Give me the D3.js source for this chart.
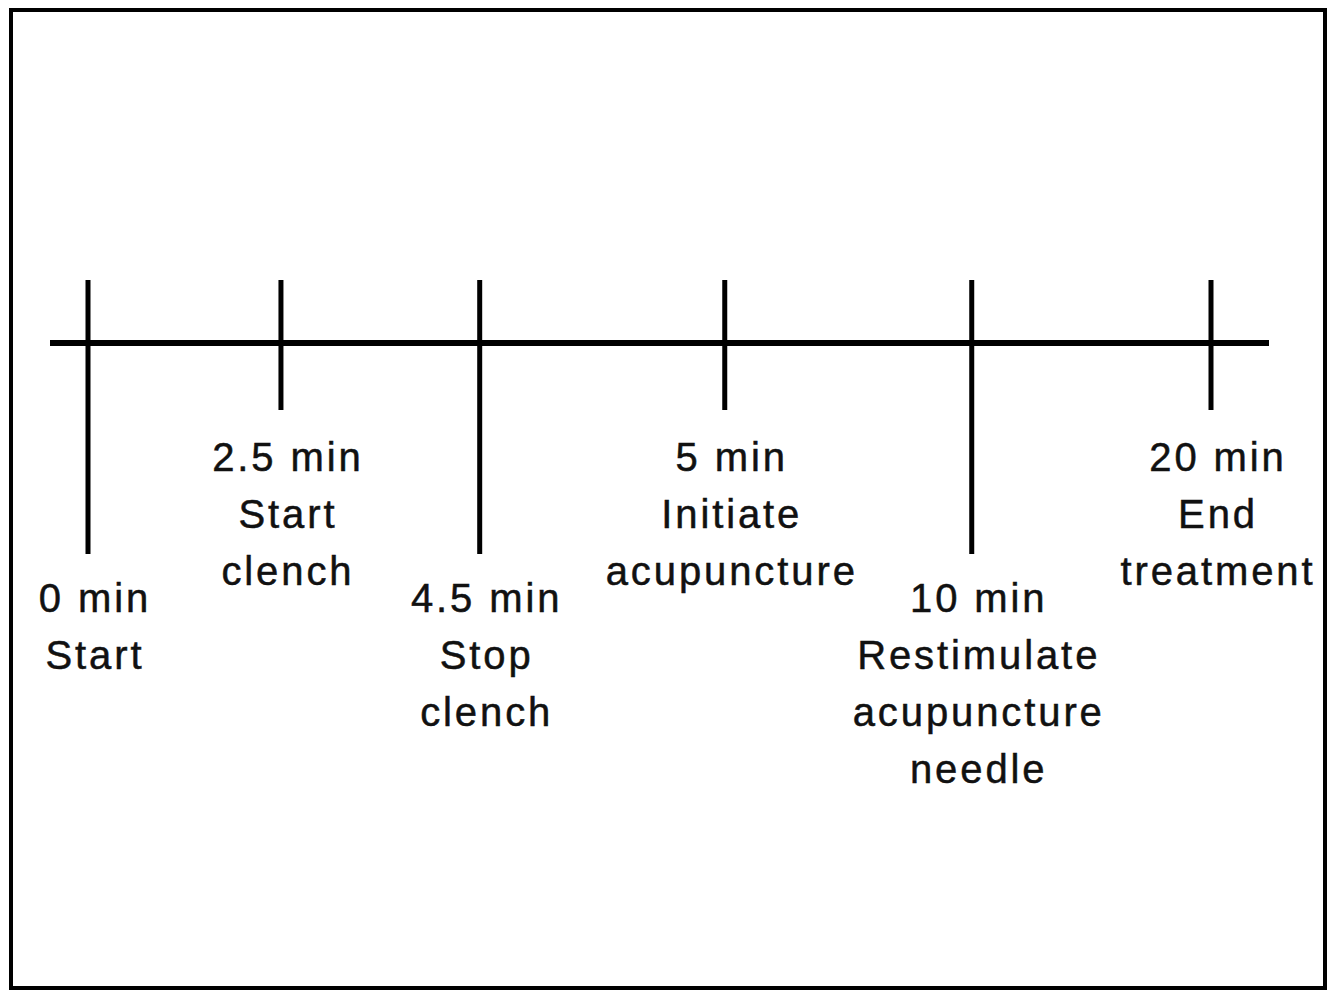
<!DOCTYPE html>
<html lang="en">
<head>
  <meta charset="UTF-8">
  <title>Treatment timeline</title>
  <script src="https://d3js.org/d3.v7.min.js"></script>
  <style>
    body { margin: 0; background: #fff; }
    svg { display: block; }
    .label { font-family: "Liberation Sans", Arial, sans-serif; font-size: 40px; letter-spacing: 2.9px; text-anchor: middle; fill: #111; stroke: #111; stroke-width: 0.5px; }
  </style>
</head>
<body>
  <svg width="1337" height="992"></svg>
  <script>
    // timeline events, left to right
    const times = ["0 min", "2.5 min", "4.5 min", "5 min", "10 min", "20 min"];
    const events = [
      ["Start"],
      ["Start", "clench"],
      ["Stop", "clench"],
      ["Initiate", "acupuncture"],
      ["Restimulate", "acupuncture", "needle"],
      ["End", "treatment"]
    ];
    // position of each mark along the line (not to time scale in the figure)
    const slots = [0, 1, 2.03, 3.3, 4.58, 5.82];
    // long tick with label below it, or short tick with label just under it
    const longTick = [true, false, true, false, true, false];

    const svg = d3.select("svg");

    svg.append("rect")
      .attr("x", 11).attr("y", 10)
      .attr("width", 1314).attr("height", 978)
      .attr("fill", "none").attr("stroke", "#000").attr("stroke-width", 4);

    const x = d3.scaleLinear().domain([0, 5.82]).range([88, 1211]);
    const lineY = 343;

    svg.append("line")
      .attr("x1", x(0) - 38).attr("x2", x(5.82) + 58)
      .attr("y1", lineY).attr("y2", lineY)
      .attr("stroke", "#000").attr("stroke-width", 6);

    const data = times.map((t, i) => ({ time: t, lines: events[i], pos: slots[i], long: longTick[i] }));

    svg.selectAll(".tick")
      .data(data)
      .enter()
      .append("line")
      .attr("class", "tick")
      .attr("x1", d => x(d.pos)).attr("x2", d => x(d.pos))
      .attr("y1", 280)
      .attr("y2", d => d.long ? 554 : 410)
      .attr("stroke", "#000").attr("stroke-width", 5);

    const lineGap = 57;
    const labels = svg.selectAll(".label")
      .data(data)
      .enter()
      .append("text")
      .attr("class", "label")
      .attr("y", d => d.long ? 612 : 471);

    labels.each(function(d) {
      const t = d3.select(this);
      [d.time].concat(d.lines).forEach((s, j) => {
        t.append("tspan")
          .attr("x", x(d.pos) + 7)
          .attr("dy", j === 0 ? 0 : lineGap)
          .text(s);
      });
    });
  </script>
</body>
</html>
